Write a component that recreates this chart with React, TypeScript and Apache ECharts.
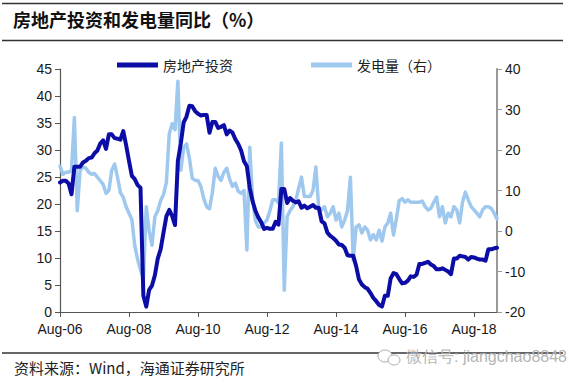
import React, { useEffect, useRef } from "react";
import * as echarts from "echarts";

const startYear = 2006;
const startMonth = 7; // August (0-based)
const monthCount = 153;
const monthNames = ["Jan", "Feb", "Mar", "Apr", "May", "Jun", "Jul", "Aug", "Sep", "Oct", "Nov", "Dec"];
const months: string[] = [];
for (let i = 0; i < monthCount; i++) {
  const m = (startMonth + i) % 12;
  const y = startYear + Math.floor((startMonth + i) / 12);
  months.push(monthNames[m] + "-" + String(y % 100).padStart(2, "0"));
}
const tickLabels = ["Aug-06", "Aug-08", "Aug-10", "Aug-12", "Aug-14", "Aug-16", "Aug-18"];

// 房地产投资 (left axis), monthly from Aug-06 to Apr-19
const realEstate = [
  24.0, 24.3, 24.3, 23.8, 21.8,
  26.9, 26.9, 26.9, 27.7, 28.0, 28.5, 28.6, 29.4, 29.9, 31.2, 31.8, 30.2,
  32.9, 32.9, 32.2, 32.1, 31.9, 33.5, 30.9, 28.0, 25.2, 24.6, 23.5, 23.0,
  3.0, 1.0, 4.1, 4.9, 6.8, 9.9, 11.6, 14.7, 17.7, 18.9, 17.8, 16.1,
  28.0, 31.1, 35.1, 36.2, 38.2, 38.1, 37.2, 36.7, 36.4, 36.5, 36.5, 33.2,
  35.2, 35.2, 34.1, 34.3, 34.6, 32.9, 33.6, 33.2, 32.0, 31.1, 29.9, 27.9,
  27.0, 23.0, 20.5, 18.7, 17.5, 16.6, 15.4, 15.6, 15.4, 15.4, 16.7, 16.2,
  22.8, 22.8, 20.2, 21.1, 20.6, 20.3, 20.5, 19.3, 19.7, 19.2, 19.5, 19.8,
  19.3, 19.3, 16.8, 16.4, 14.7, 14.1, 13.7, 13.2, 12.5, 12.4, 11.9, 10.5,
  10.4, 10.4, 8.5, 6.0, 5.1, 4.6, 4.3, 3.5, 2.6, 2.0, 1.3, 1.0,
  3.0, 3.0, 6.2, 7.2, 7.0, 6.1, 5.3, 5.4, 5.8, 6.6, 6.5, 6.9,
  8.9, 8.9, 9.1, 9.3, 8.8, 8.5, 7.9, 7.9, 8.1, 7.8, 7.5, 7.0,
  9.9, 9.9, 10.4, 10.3, 10.2, 9.7, 10.2, 10.1, 9.9, 9.7, 9.7, 9.5,
  11.6, 11.6, 11.8, 11.9,
];

// 发电量 (right axis), monthly from Aug-06 to Apr-19
const power = [
  16, 14, 14.5, 14.5, 15,
  28, 5, 15, 15.8, 15.5, 14.5, 14, 14.2, 13.3, 12.4, 11.5, 9.3,
  10, 15, 16.5, 13.3, 9.5, 8.3, 6, 4.4, 2.8, -3.6, -7, -9.6,
  -12, 6, 0, -3.5, 3.5, 5, 7.5, 9, 12, 24, 26.5, 25,
  37, 15, 20.5, 21.5, 18, 13, 12.5, 12.5, 11, 8, 6, 5.5,
  9.5, 15.5, 13.5, 12.5, 14.5, 15.5, 12.8, 11, 11.8, 9.8, 9.3, 10,
  -4.7, 20.7, 7.7, 2.5, 1, 1, 2, 2.7, 5, 7.7, 7.7, 7,
  21.7, -14.6, 3.5, 5, 6, 7.5, 10.5, 13.3, 8.5, 8.5, 8.5, 10,
  15.8, 5.5, 5.2, 6, 3.5, 4.4, 6, 2.7, 4.4, 1, 2.7, 5,
  13.3, -7.2, 1, 1.5, -0.5, 1, 0.2, -2.2, -0.9, -2.2, 0.2, -2.5,
  1, 2, 4.4, -1, 3, 7.5, 8, 7.1, 7.7, 7.1, 7.1, 7.1,
  7.1, 7.4, 6, 5.2, 5.6, 7.1, 8.4, 3.5, 6, 2, 4.4, 3.5,
  6, 5.2, 2, 7.1, 9.6, 7.7, 6, 5.2, 4.4, 3.5, 5.2, 6,
  6, 5.6, 4.4, 3,
];

const seriesNames = ["房地产投资", "发电量（右）"];
const title = "房地产投资和发电量同比（%）";
const source = "资料来源：Wind，海通证券研究所";
const watermark = "微信号: jiangchao8848";

const DARK = "#0c0ca6";
const LIGHT = "#9fc8ee";
const NUM_FONT = "Arial, 'Liberation Sans', sans-serif";
const CJK_FONT = "'Noto Sans CJK SC', sans-serif";

export default function App() {
  const ref = useRef<HTMLDivElement>(null);
  useEffect(() => {
    if (!ref.current) return;
    const chart = echarts.init(ref.current, null, { renderer: "svg" });
    chart.setOption({
      animation: false,
      backgroundColor: "#ffffff",
      grid: { left: 60, right: 72, top: 69, bottom: 72, containLabel: false },
      legend: {
        data: seriesNames,
        left: 117,
        top: 58,
        itemWidth: 41,
        itemHeight: 5,
        itemGap: 78,
        padding: 0,
        icon: "rect",
        textStyle: { fontFamily: CJK_FONT, fontSize: 14, color: "#222", padding: [0, 0, 0, 0] },
      },
      xAxis: {
        type: "category",
        data: months,
        boundaryGap: false,
        axisLine: { lineStyle: { color: "#555", width: 1.2 } },
        axisTick: { interval: 23, length: 5, lineStyle: { color: "#555" } },
        axisLabel: {
          interval: 23,
          margin: 10,
          fontFamily: NUM_FONT,
          fontSize: 14,
          color: "#1a1a1a",
          formatter: (v: string) => (tickLabels.includes(v) ? v : ""),
        },
        splitLine: { show: false },
      },
      yAxis: [
        {
          type: "value",
          min: 0,
          max: 45,
          interval: 5,
          position: "left",
          axisLine: { show: true, lineStyle: { color: "#555", width: 1.2 } },
          axisTick: { show: true, length: 5, lineStyle: { color: "#555" } },
          axisLabel: { fontFamily: NUM_FONT, fontSize: 14, color: "#1a1a1a", margin: 8 },
          splitLine: { show: false },
        },
        {
          type: "value",
          min: -20,
          max: 40,
          interval: 10,
          position: "right",
          axisLine: { show: true, lineStyle: { color: "#999", width: 2 } },
          axisTick: { show: true, length: 5, lineStyle: { color: "#999" } },
          axisLabel: { fontFamily: NUM_FONT, fontSize: 14, color: "#1a1a1a", margin: 8 },
          splitLine: { show: false },
        },
      ],
      series: [
        {
          name: seriesNames[0],
          type: "line",
          yAxisIndex: 0,
          data: realEstate,
          showSymbol: false,
          symbol: "none",
          z: 3,
          lineStyle: { color: DARK, width: 4, join: "round", cap: "round" },
          itemStyle: { color: DARK },
        },
        {
          name: seriesNames[1],
          type: "line",
          yAxisIndex: 1,
          data: power,
          showSymbol: false,
          symbol: "none",
          z: 2,
          lineStyle: { color: LIGHT, width: 3.5, join: "round", cap: "round" },
          itemStyle: { color: LIGHT },
        },
      ],
      graphic: [
        { type: "line", shape: { x1: 2, y1: 3.5, x2: 563, y2: 3.5 }, style: { stroke: "#333", lineWidth: 1.5 } },
        { type: "line", shape: { x1: 2, y1: 40.5, x2: 563, y2: 40.5 }, style: { stroke: "#333", lineWidth: 1.5 } },
        { type: "line", shape: { x1: 2, y1: 353, x2: 563, y2: 353 }, style: { stroke: "#333", lineWidth: 1.5 } },
        {
          type: "text",
          left: 13,
          top: 10,
          style: { text: title, fontFamily: CJK_FONT, fontSize: 18, fill: "#111", fontWeight: "bold" },
        },
        {
          type: "text",
          left: 14,
          top: 360,
          style: { text: source, fontFamily: CJK_FONT, fontSize: 15, fill: "#222" },
        },
        {
          type: "ellipse",
          shape: { cx: 385, cy: 356, rx: 7, ry: 6 },
          style: { fill: "#fff", stroke: "#aaa", lineWidth: 1 },
        },
        {
          type: "ellipse",
          shape: { cx: 394, cy: 360, rx: 6, ry: 5 },
          style: { fill: "#fff", stroke: "#aaa", lineWidth: 1 },
        },
        {
          type: "text",
          left: 406,
          top: 348,
          style: {
            text: watermark,
            fontFamily: NUM_FONT,
            fontSize: 16,
            fill: "#b4b4b4",
          },
        },
      ],
    });
    return () => chart.dispose();
  }, []);
  return (
    <div
      ref={ref}
      style={{ position: "fixed", left: 0, top: 0, width: 569, height: 384, background: "#fff" }}
    />
  );
}
